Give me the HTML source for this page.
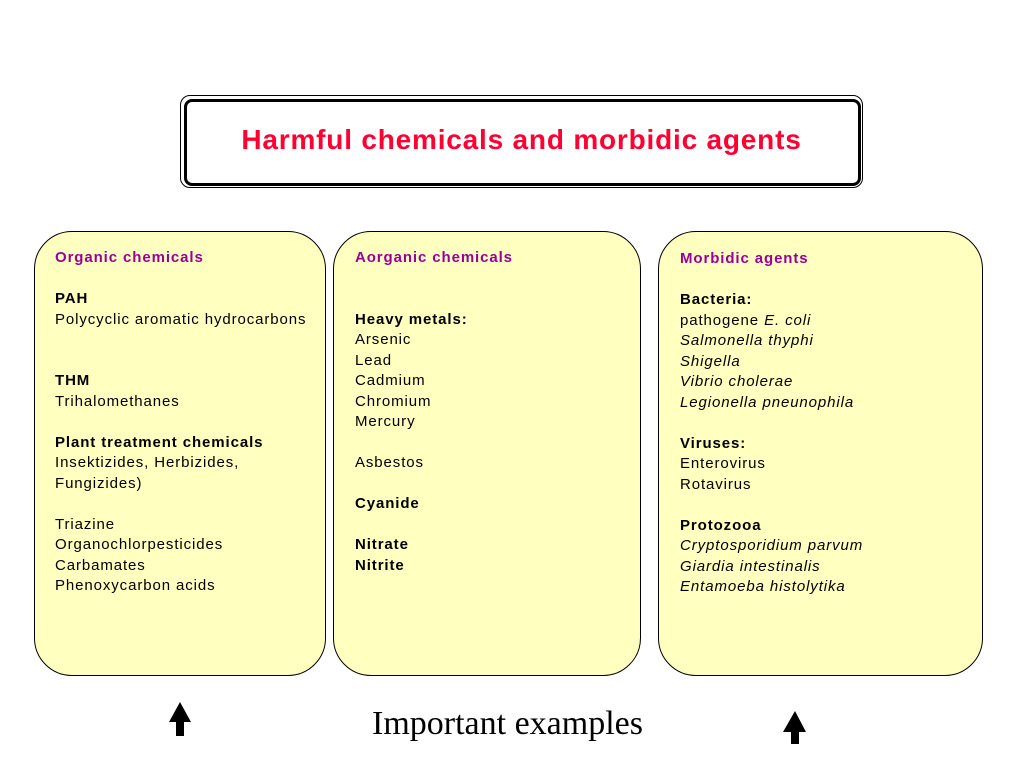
<!DOCTYPE html>
<html><head><meta charset="utf-8"><style>
body{margin:0;width:1024px;height:768px;background:#fff;position:relative;overflow:hidden;font-family:"Liberation Sans",Arial,sans-serif;}
.t{position:absolute;left:180px;top:95px;width:681px;height:91px;border:1px solid #000;border-radius:10px;}
.t2{position:absolute;left:184px;top:99px;width:671px;height:81px;border:3px solid #000;border-radius:8px;}
.tt{position:absolute;left:180px;top:123px;width:683px;text-align:center;color:#ff0033;font-weight:bold;font-size:28px;letter-spacing:0.8px;line-height:34px;}
.b{position:absolute;top:231px;height:443px;background:#ffffc0;border:1px solid #000;border-radius:38px;}
.c{position:absolute;font-size:15px;line-height:20.5px;letter-spacing:0.9px;color:#000;white-space:pre;}
.h{color:#990099;font-weight:bold;}
b{font-weight:bold;}
.ie{position:absolute;left:372px;top:704px;font-family:"Liberation Serif",serif;font-size:34px;line-height:40px;}
</style></head><body>
<div class="t"></div><div class="t2"></div>
<div class="tt">Harmful chemicals and morbidic agents</div>
<div class="b" style="left:34px;width:290px"></div>
<div class="b" style="left:333px;width:306px"></div>
<div class="b" style="left:658px;width:323px"></div>
<div class="c" style="left:55px;top:248px"><span class="h">Organic chemicals</span>
 
<b>PAH</b>
Polycyclic aromatic hydrocarbons
 
 
<b>THM</b>
Trihalomethanes
 
<b>Plant treatment chemicals</b>
Insektizides, Herbizides,
Fungizides)
 
Triazine
Organochlorpesticides
Carbamates
Phenoxycarbon acids</div>
<div class="c" style="left:355px;top:248px"><span class="h">Aorganic chemicals</span>
 
 
<b>Heavy metals:</b>
Arsenic
Lead
Cadmium
Chromium
Mercury
 
Asbestos
 
<b>Cyanide</b>
 
<b>Nitrate</b>
<b>Nitrite</b></div>
<div class="c" style="left:680px;top:249px"><span class="h">Morbidic agents</span>
 
<b>Bacteria:</b>
pathogene <i>E. coli</i>
<i>Salmonella thyphi</i>
<i>Shigella</i>
<i>Vibrio cholerae</i>
<i>Legionella pneunophila</i>
 
<b>Viruses:</b>
Enterovirus
Rotavirus
 
<b>Protozooa</b>
<i>Cryptosporidium parvum</i>
<i>Giardia intestinalis</i>
<i>Entamoeba histolytika</i></div>
<svg style="position:absolute;left:0;top:0" width="1024" height="768">
<polygon points="180,702 169,722 176,722 176,736 184,736 184,722 191,722" fill="#000"/>
<polygon points="795,711 783,732 791,732 791,744 799,744 799,732 806,732" fill="#000"/>
</svg>
<div class="ie">Important examples</div>
</body></html>
